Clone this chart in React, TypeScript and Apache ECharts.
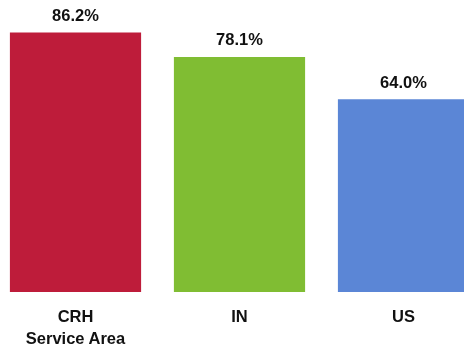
import React, { useEffect, useRef } from "react";
import * as echarts from "echarts";

const categories = ["CRH\nService Area", "IN", "US"];
const values = [86.2, 78.1, 64.0];
const colors = ["#BE1C3A", "#80BD33", "#5B86D6"];

const FONT = "'Liberation Sans', Arial, sans-serif";

export default function App() {
  const ref = useRef<HTMLDivElement>(null);
  useEffect(() => {
    if (!ref.current) return;
    const chart = echarts.init(ref.current, null, { renderer: "svg" });
    chart.setOption({
      animation: false,
      grid: { left: -6.5, right: -21.5, top: 0, bottom: 60, outerBoundsMode: "none", containLabel: false },
      xAxis: {
        type: "category",
        data: categories,
        axisLine: { show: false },
        axisTick: { show: false },
        axisLabel: {
          interval: 0,
          margin: 13,
          color: "#111",
          fontFamily: FONT,
          fontWeight: "bold",
          fontSize: 16.5,
          lineHeight: 22,
        },
      },
      yAxis: {
        type: "value",
        min: 0,
        max: 97,
        show: false,
        splitLine: { show: false },
      },
      series: [
        {
          type: "bar",
          barCategoryGap: "20%",
          data: values.map((v, i) => ({ value: v, itemStyle: { color: colors[i] } })),
          label: {
            show: true,
            position: "top",
            distance: 9,
            formatter: (p: any) => p.value.toFixed(1) + "%",
            color: "#111",
            fontFamily: FONT,
            fontWeight: "bold",
            fontSize: 16.5,
          },
        },
      ],
    });
    return () => chart.dispose();
  }, []);
  return <div ref={ref} style={{ position: "fixed", left: 0, top: 0, width: 464, height: 352 }} />;
}
